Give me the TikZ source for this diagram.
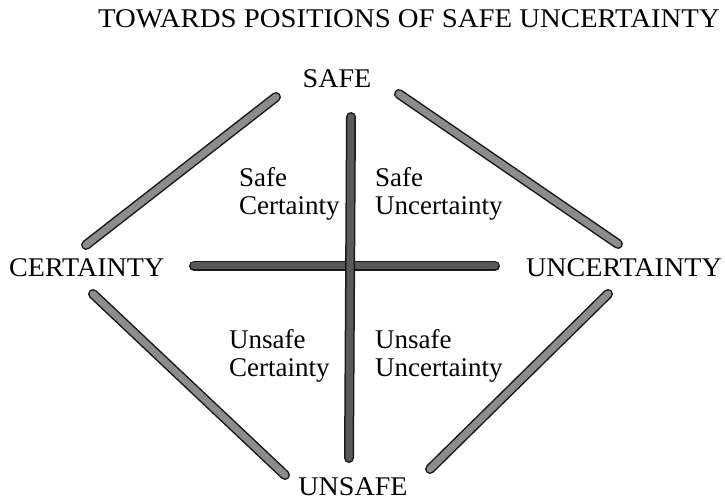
\documentclass[tikz,border=0pt]{standalone}
\usepackage{fontspec}
\setmainfont{Liberation Serif}
\newfontfamily\widefont[FakeStretch=1.04]{Liberation Serif}
\newfontfamily\headfont[FakeStretch=1.065]{Liberation Serif}
\tikzset{bar/.style={
        draw=black!90,
        line width=1.5pt,
        double=black!45,
        double distance=7pt,
        line cap=round},
        %
        darkbar/.style={
            bar,
            double=black!65},
        pole/.style={
            font=\widefont\fontsize{27}{28}\selectfont,
            inner sep=0pt},
        quad/.style={
            font=\fontsize{27}{28}\selectfont,
            inner sep=0pt,
            align=left,
            anchor=north west}
        }
\def\capsz{27}

\begin{document}
\begin{tikzpicture}[x=1pt,y=-1pt]
\useasboundingbox (0,0) rectangle (725,502);

\node[inner sep=0pt,anchor=base,font=\headfont\fontsize{\capsz}{28}\selectfont] (title) at (409,28) {TOWARDS POSITIONS OF SAFE UNCERTAINTY};

\node[pole,anchor=base] (safe) at (337,88) {SAFE};
\node[pole,anchor=base west] (cert) at (9,277) {CERTAINTY};
\node[pole,anchor=base east] (uncert) at (722,277) {UNCERTAINTY};
\node[pole,anchor=base] (unsafe) at (353,495) {UNSAFE};

\node[quad] (sc) at (239,167) {Safe\\Certainty};
\node[quad] (su) at (375,167) {Safe\\Uncertainty};
\node[quad] (uc) at (229,329) {Unsafe\\Certainty};
\node[quad] (uu) at (375,329) {Unsafe\\Uncertainty};

% bar ends
\coordinate (ul1) at (276,97);
\coordinate (ul2) at (86,245);
\coordinate (ur1) at (399,94);
\coordinate (ur2) at (618,244);
\coordinate (ll1) at (93,294);
\coordinate (ll2) at (285,475);
\coordinate (lr1) at (608,294);
\coordinate (lr2) at (430,469);
\coordinate (h1) at (194,266);
\coordinate (h2) at (495,266);
\coordinate (v1) at (351,117);
\coordinate (v2) at (349,458);

\draw[bar] (ul1) -- (ul2);
\draw[bar] (ur1) -- (ur2);
\draw[bar] (ll1) -- (ll2);
\draw[bar] (lr1) -- (lr2);
\draw[darkbar] (h1) -- (h2);
\draw[darkbar] (v1) -- (v2);
\end{tikzpicture}
\end{document}
